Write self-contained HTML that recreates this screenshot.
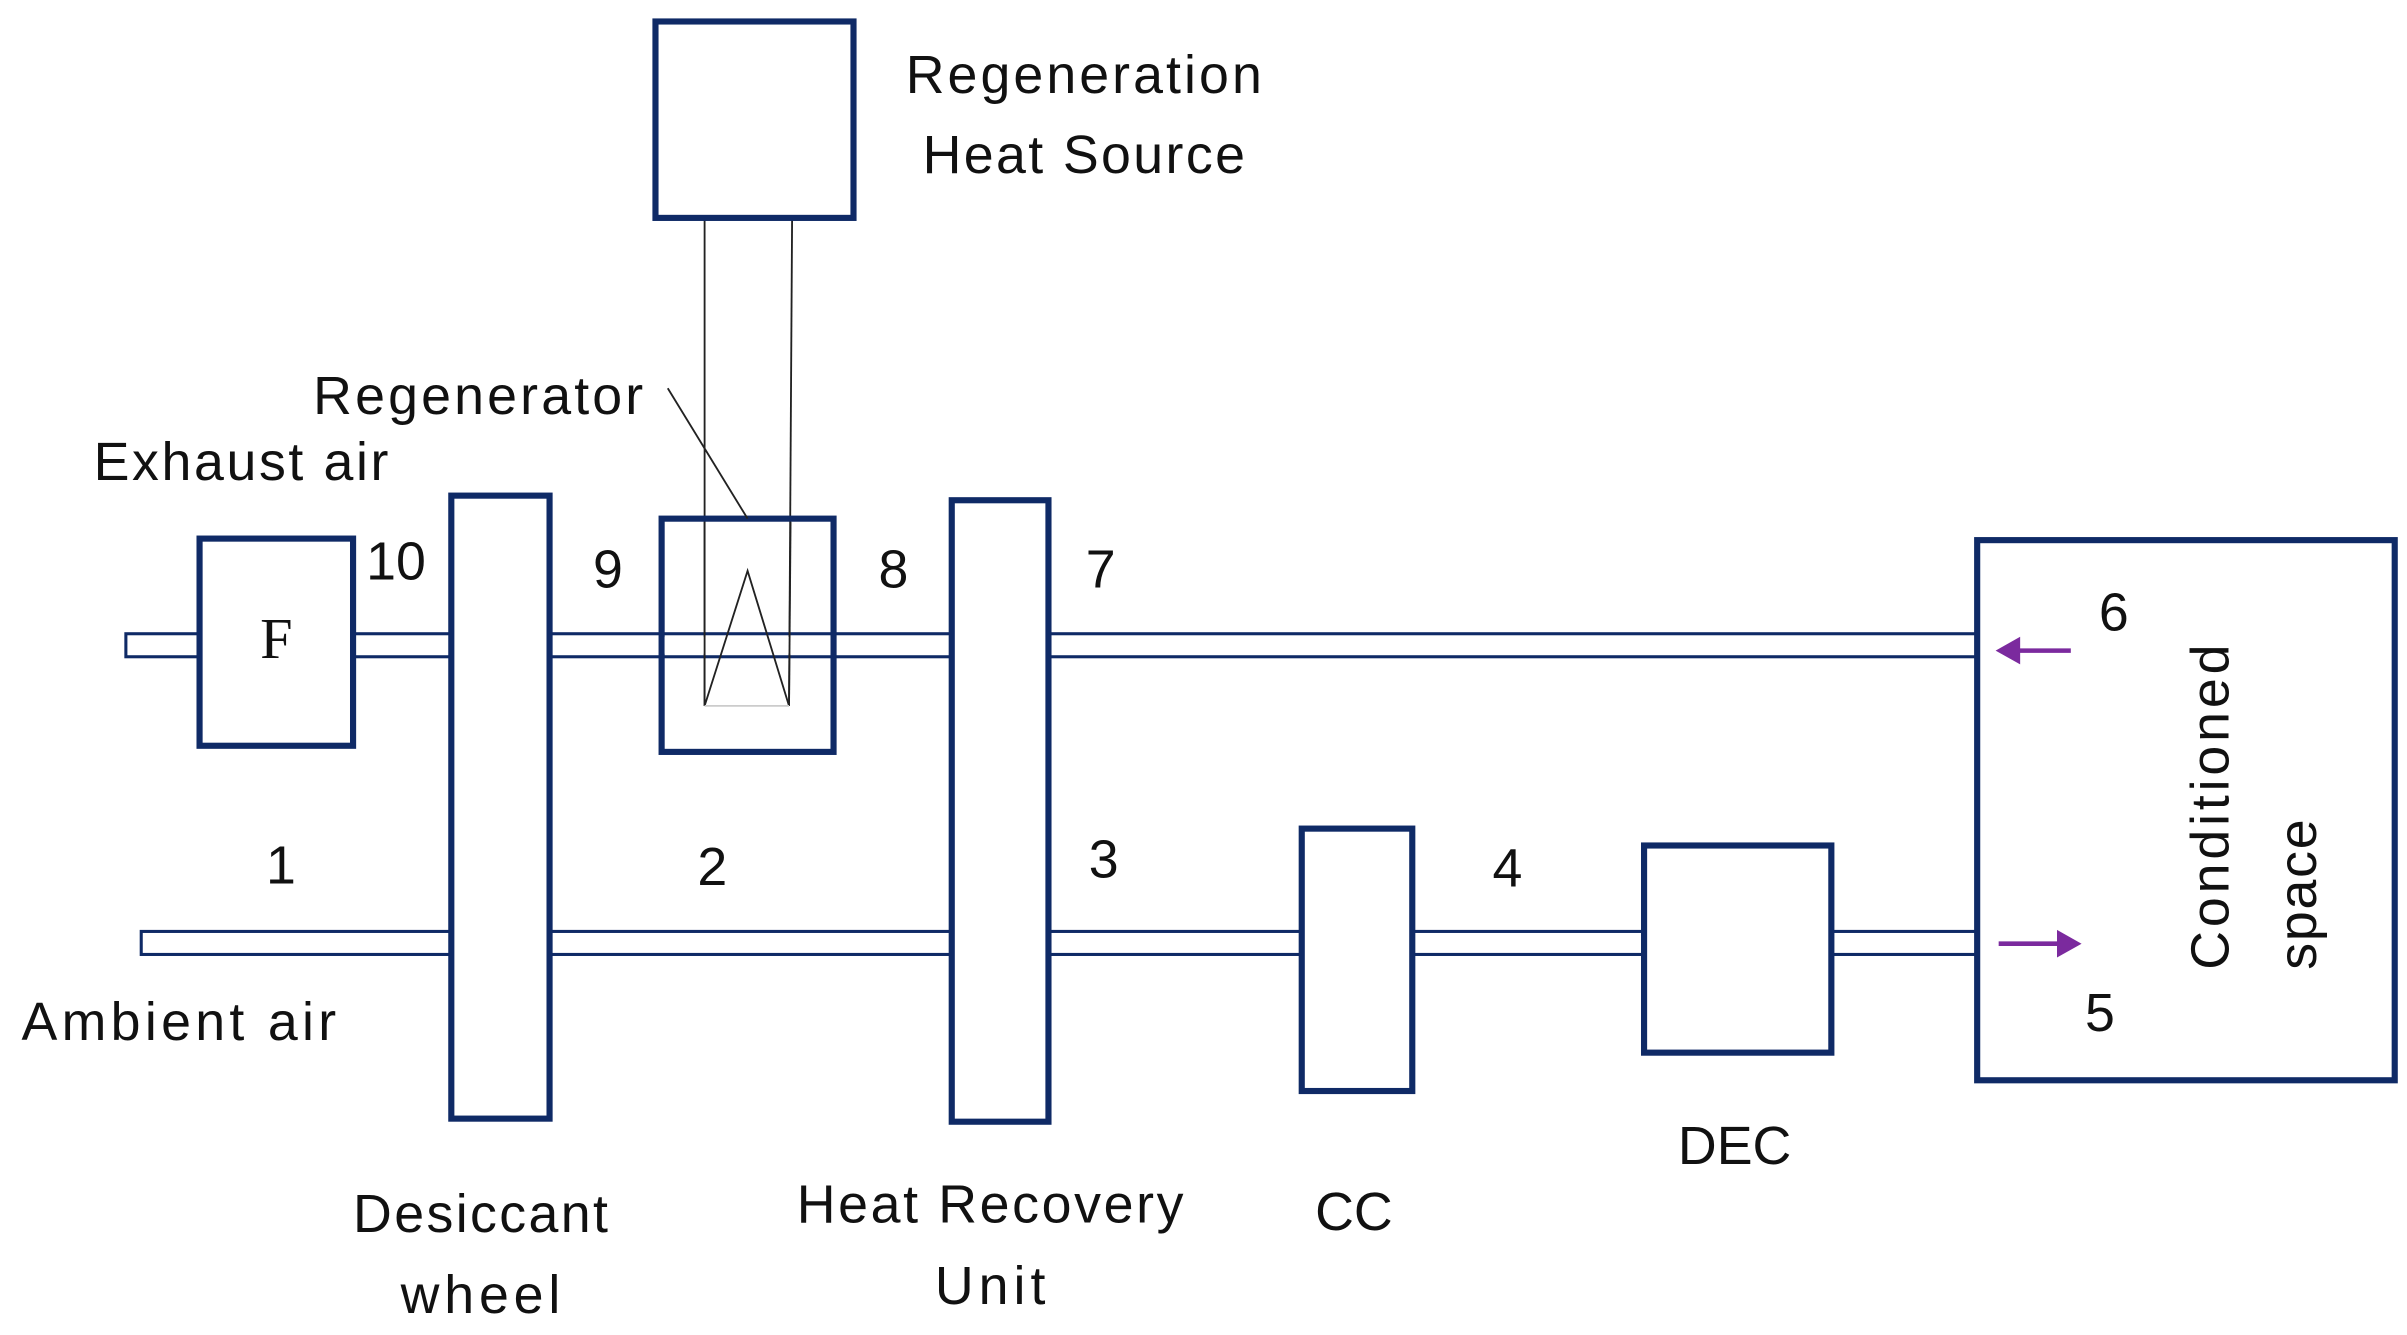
<!DOCTYPE html>
<html><head><meta charset="utf-8"><style>html,body{margin:0;padding:0;background:#fff}svg{display:block}</style></head>
<body>
<svg width="2407" height="1335" viewBox="0 0 1568 870" preserveAspectRatio="none" xmlns="http://www.w3.org/2000/svg" font-family="Liberation Sans, sans-serif" fill="#111">
<g fill="#fff" stroke="#0f2a66" stroke-width="2">
  <rect x="82" y="413" width="1206" height="15"/>
  <rect x="92" y="607" width="1196" height="15"/>
</g>
<g fill="none" stroke="#222" stroke-width="1.2">
  <line x1="459" y1="142" x2="459" y2="460"/>
  <line x1="516" y1="142" x2="514" y2="460"/>
</g>
<g fill="#fff" stroke="#0f2a66" stroke-width="4">
  <rect x="427" y="14" width="129" height="128"/>
  <rect x="431" y="338" width="112" height="152" fill="none"/>
  <rect x="130" y="351" width="100" height="135"/>
  <rect x="294" y="323" width="64" height="406"/>
  <rect x="620" y="326" width="63" height="405"/>
  <rect x="848" y="540" width="72" height="171"/>
  <rect x="1071" y="551" width="122" height="135"/>
  <rect x="1288" y="352" width="272" height="352"/>
</g>
<rect x="433" y="415" width="108" height="11" fill="#fff"/>
<g fill="none" stroke="#222" stroke-width="1.2">
  <line x1="459" y1="340" x2="459" y2="460"/>
  <line x1="515" y1="340" x2="514" y2="460"/>
  <polyline points="459,460 487,372 514,460"/>
  <line x1="459" y1="460" x2="514" y2="460" stroke="#ccc"/>
  <line x1="435" y1="253" x2="487" y2="338"/>
</g>
<g stroke="#7b2a9e" stroke-width="3" fill="#7b2a9e">
  <line x1="1349" y1="424" x2="1312" y2="424"/>
  <polygon points="1300,424 1316,415 1316,433" stroke="none"/>
  <line x1="1302" y1="615" x2="1342" y2="615"/>
  <polygon points="1356,615 1340,606 1340,624" stroke="none"/>
</g>
<g font-size="35" dominant-baseline="central">
  <text x="706" y="49" text-anchor="middle" textLength="232">Regeneration</text>
  <text x="706" y="101" text-anchor="middle" textLength="210">Heat Source</text>
  <text x="204" y="258" textLength="215">Regenerator</text>
  <text x="61" y="301" textLength="192">Exhaust air</text>
  <text x="14" y="666" textLength="205">Ambient air</text>
  <text x="313" y="791" text-anchor="middle" textLength="166">Desiccant</text>
  <text x="313" y="844" text-anchor="middle" textLength="104">wheel</text>
  <text x="645" y="785" text-anchor="middle" textLength="252">Heat Recovery</text>
  <text x="645" y="838" text-anchor="middle" textLength="72">Unit</text>
  <text x="882" y="790" text-anchor="middle">CC</text>
  <text x="1130" y="747" text-anchor="middle">DEC</text>
  <text x="258" y="366" text-anchor="middle">10</text>
  <text x="396" y="371" text-anchor="middle">9</text>
  <text x="582" y="371" text-anchor="middle">8</text>
  <text x="717" y="371" text-anchor="middle">7</text>
  <text x="183" y="564" text-anchor="middle">1</text>
  <text x="464" y="565" text-anchor="middle">2</text>
  <text x="719" y="560" text-anchor="middle">3</text>
  <text x="982" y="566" text-anchor="middle">4</text>
  <text x="1377" y="399" text-anchor="middle">6</text>
  <text x="1368" y="660" text-anchor="middle">5</text>
  <text x="180" y="416" text-anchor="middle" font-family="Liberation Serif, serif" font-size="38">F</text>
  <text transform="translate(1440,526) rotate(-90)" text-anchor="middle" textLength="212">Conditioned</text>
  <text transform="translate(1497,583) rotate(-90)" text-anchor="middle" textLength="98">space</text>
</g>
</svg>
</body></html>
